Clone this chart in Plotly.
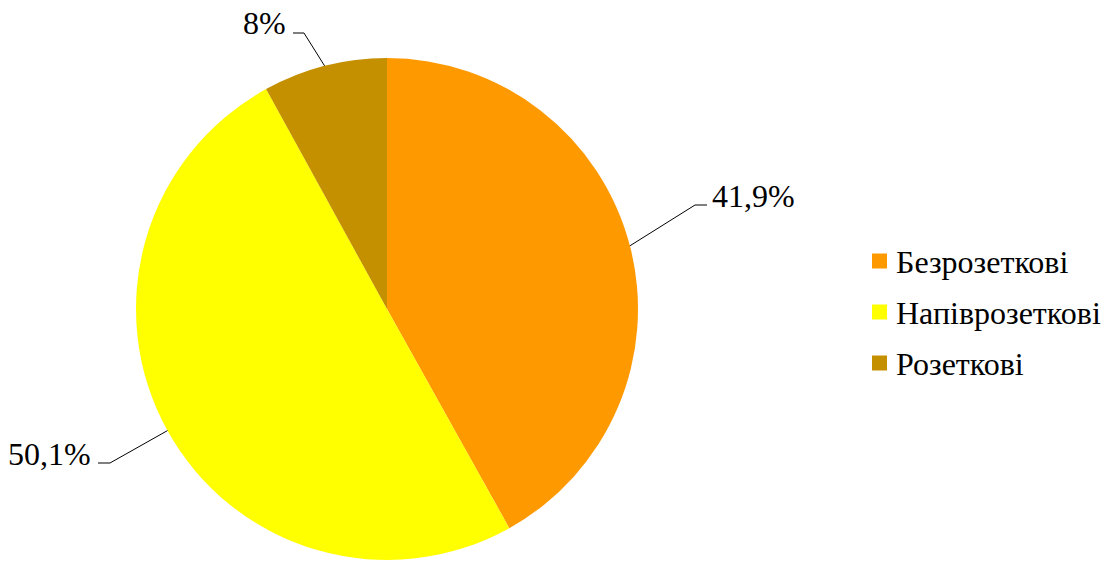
import math
import plotly.graph_objects as go

# Data
labels = ["Безрозеткові", "Напіврозеткові", "Розеткові"]
values = [41.9, 50.1, 8.0]
colors = ["#FF9900", "#FFFF00", "#C49000"]

W, H = 1107, 562
FONT = "Liberation Serif"

# Pie geometry in pixels
CX, CY, R = 387, 309, 251

# Leader-line elbows and label anchors (pixels), one per slice
elbows = [(695, 205), (110, 463), (304, 33)]
ends = [(707, 205), (98, 463), (293, 33)]
text_pos = [(710, 196, "left"), (93, 454, "right"), (288, 23, "right")]


def px(x, y):
    return x / W, 1 - y / H


def fmt(v):
    return f"{v:g}".replace(".", ",") + "%"


fig = go.Figure(
    go.Pie(
        labels=labels,
        values=values,
        sort=False,
        direction="clockwise",
        rotation=0,
        marker=dict(colors=colors, line=dict(width=0)),
        textinfo="none",
        showlegend=False,
        domain=dict(x=[(CX - R) / W, (CX + R) / W], y=[1 - (CY + R) / H, 1 - (CY - R) / H]),
    )
)

shapes = []
annotations = []
total = sum(values)
cum = 0.0
for i, v in enumerate(values):
    mid = (cum + v / 2) / total * 2 * math.pi
    cum += v
    ex, ey = CX + R * math.sin(mid), CY - R * math.cos(mid)
    pts = [(ex, ey), elbows[i], ends[i]]
    path = "M " + " L ".join(f"{px(*p)[0]},{px(*p)[1]}" for p in pts)
    shapes.append(dict(type="path", xref="paper", yref="paper", path=path,
                       line=dict(color="#000000", width=1)))
    tx, ty, anchor = text_pos[i]
    annotations.append(dict(x=px(tx, ty)[0], y=px(tx, ty)[1], xref="paper", yref="paper",
                            text=fmt(v), showarrow=False, xanchor=anchor, yanchor="middle",
                            font=dict(family=FONT, size=32, color="#000000")))

# Legend
leg_x, leg_y0, leg_dy, sq = 872, 261, 51, 15
for i, (lab, col) in enumerate(zip(labels, colors)):
    yc = leg_y0 + i * leg_dy
    x0, y0 = px(leg_x, yc + sq / 2)
    x1, y1 = px(leg_x + sq, yc - sq / 2)
    shapes.append(dict(type="rect", xref="paper", yref="paper", x0=x0, y0=y0, x1=x1, y1=y1,
                       fillcolor=col, line=dict(width=0)))
    annotations.append(dict(x=px(leg_x + sq + 7, yc)[0], y=px(0, yc + 1)[1], xref="paper", yref="paper",
                            text=lab, showarrow=False, xanchor="left", yanchor="middle",
                            font=dict(family=FONT, size=32, color="#000000")))

fig.update_layout(
    width=W, height=H,
    margin=dict(l=0, r=0, t=0, b=0),
    paper_bgcolor="white", plot_bgcolor="white",
    font=dict(family=FONT),
    shapes=shapes, annotations=annotations,
)

fig.write_html("out.html")
